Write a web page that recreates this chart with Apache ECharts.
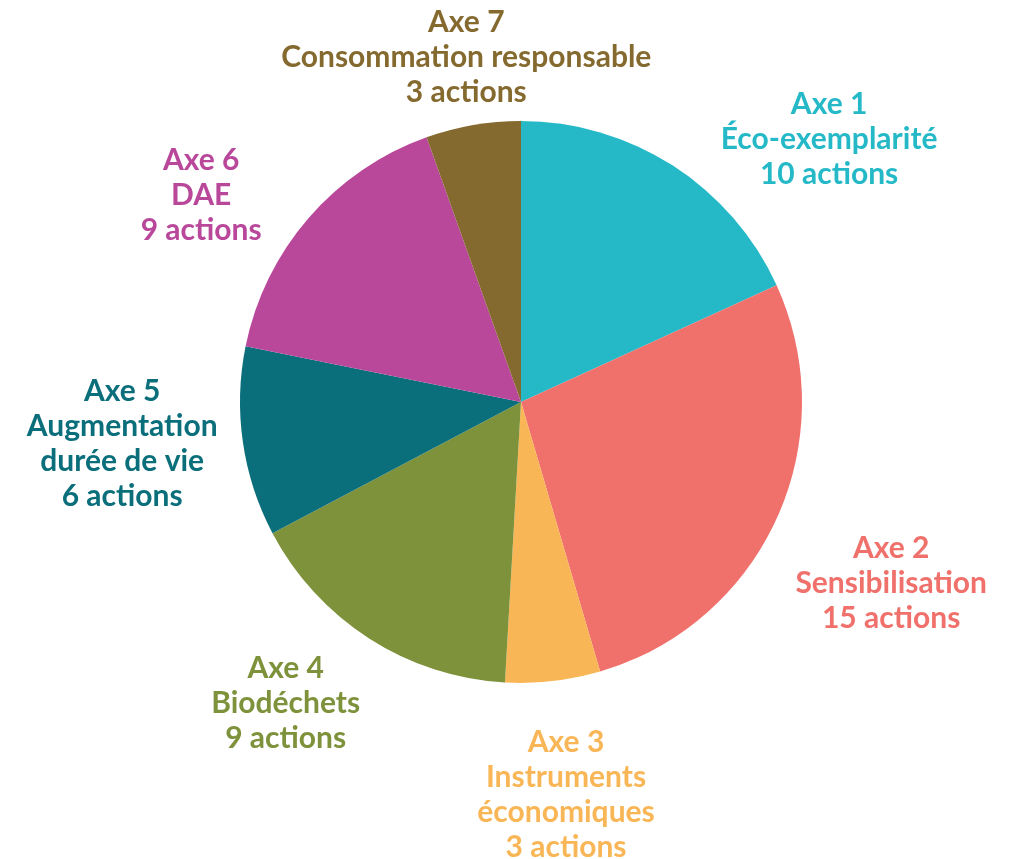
<!DOCTYPE html>
<html>
<head>
<meta charset="utf-8">
<style>
  html, body { margin: 0; padding: 0; background: #fff; }
  #main { width: 1010px; height: 859px; }
</style>
<script src="https://cdn.jsdelivr.net/npm/echarts@6/dist/echarts.min.js"></script>
</head>
<body>
<div id="main"></div>
<script>
// données du graphique
var axes = ["Axe 1", "Axe 2", "Axe 3", "Axe 4", "Axe 5", "Axe 6", "Axe 7"];
var titres = [
  "Éco-exemplarité",
  "Sensibilisation",
  "Instruments\néconomiques",
  "Biodéchets",
  "Augmentation\ndurée de vie",
  "DAE",
  "Consommation responsable"
];
var nbActions = [10, 15, 3, 9, 6, 9, 3];
var couleurs = ["#25b9c8", "#f0716c", "#f9b656", "#7e923b", "#0b6f7b", "#b9489b", "#856a30"];

// placement des étiquettes : décalage d'angle (degrés) et distance au centre
var decalAngle = [16.8, 1.5, 0, 5.3, 2.2, -8, 0.8];
var distLabel = [405, 412, 395, 382, 401, 381, 349];

var cx = 521, cy = 402;
var total = nbActions.reduce(function (a, b) { return a + b; }, 0);

var data = axes.map(function (a, i) {
  return {
    name: a,
    value: nbActions[i],
    itemStyle: { color: couleurs[i] },
    label: { color: couleurs[i] }
  };
});

var myChart = echarts.init(document.getElementById("main"));
myChart.setOption({
  animation: false,
  series: [
    {
      type: "pie",
      center: [cx, cy],
      radius: 281,
      startAngle: 90,
      clockwise: true,
      avoidLabelOverlap: false,
      data: data,
      label: {
        show: true,
        position: "outside",
        fontFamily: "Lato",
        fontWeight: "bold",
        fontSize: 30,
        lineHeight: 35,
        formatter: function (p) {
          var i = p.dataIndex;
          return axes[i] + "\n" + titres[i] + "\n" + nbActions[i] + " actions";
        }
      },
      labelLine: { show: false },
      labelLayout: function (p) {
        var i = p.dataIndex;
        var avant = 0;
        for (var k = 0; k < i; k++) avant += nbActions[k];
        var mid = (avant + nbActions[i] / 2) / total * 360 + decalAngle[i];
        var rad = mid * Math.PI / 180;
        return {
          x: cx + distLabel[i] * Math.sin(rad),
          y: cy - distLabel[i] * Math.cos(rad),
          align: "center",
          verticalAlign: "middle"
        };
      }
    }
  ]
});
</script>
</body>
</html>
